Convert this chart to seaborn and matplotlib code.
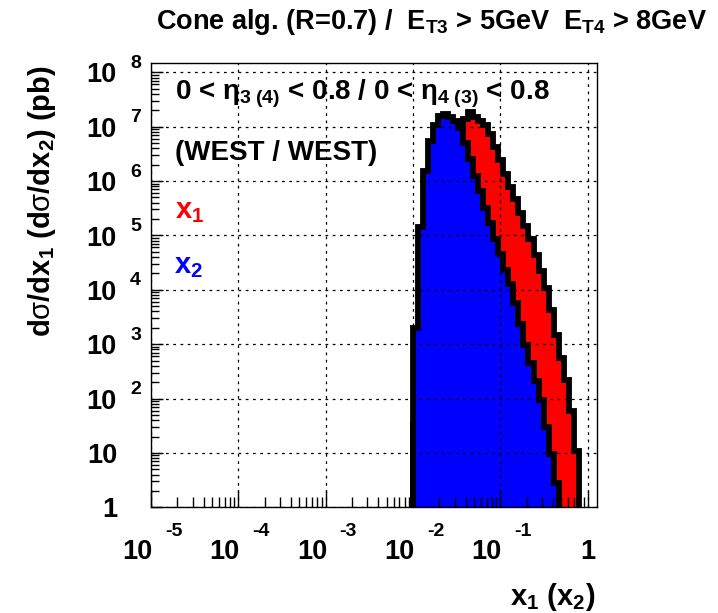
import numpy as np
import pandas as pd
import matplotlib
matplotlib.use("Agg")
import matplotlib.pyplot as plt
import matplotlib.transforms as mtrans
from matplotlib.collections import PolyCollection
from matplotlib.ticker import LogLocator, NullFormatter
import seaborn as sns

# log10(x) binning of the momentum-fraction histograms
log_x_start = -2.0
log_bin_width = 0.0575

# d(sigma)/dx in pb, one entry per bin
x1_xsec = [32, 1.0e3, 1.6e4, 1.0e5, 4.0e5, 1.26e6, 3.2e6, 5.6e6, 8.3e6,
           1.12e7, 1.38e7, 1.86e7, 1.5e7, 1.26e7, 1.05e7, 7.4e6, 4.2e6,
           2.4e6, 1.35e6, 7.8e5, 4.6e5, 2.6e5, 1.5e5, 8.5e4, 4.3e4, 2.2e4,
           1.1e4, 4.2e3, 1.45e3, 550, 215, 60, 11]
x2_xsec = [2.0e3, 1.4e5, 1.5e6, 5.5e6, 1.07e7, 1.55e7, 1.74e7, 1.48e7,
           1.26e7, 9.5e6, 5.0e6, 2.5e6, 1.26e6, 6.5e5, 3.2e5, 1.66e5, 8.5e4,
           4.5e4, 2.3e4, 1.26e4, 5.6e3, 2.3e3, 9.5e2, 4.5e2, 2.1e2, 95, 30,
           9.5, 2.8]

x_exponents = [-5, -4, -3, -2, -1, 0]
y_exponents = [0, 1, 2, 3, 4, 5, 6, 7, 8]

title_text = (r"Cone alg. (R=0.7) /  E$_{\mathbf{T3}}$ > 5GeV  "
              r"E$_{\mathbf{T4}}$ > 8GeV")
eta_text = (r"0 < η$_{\mathbf{3\ (4)}}$ < 0.8 / 0 < "
            r"η$_{\mathbf{4\ (3)}}$ < 0.8")
region_text = "(WEST / WEST)"
xlabel_text = r"x$_{\mathbf{1}}$ (x$_{\mathbf{2}}$)"
ylabel_text = (r"d$\mathrm{\sigma}$/dx$_{\mathbf{1}}$ "
               r"(d$\mathrm{\sigma}$/dx$_{\mathbf{2}}$) (pb)")

sns.set_theme(style="white")
plt.rcParams["font.family"] = ["Liberation Sans", "DejaVu Sans"]
plt.rcParams["text.color"] = "black"
plt.rcParams["mathtext.fontset"] = "custom"
plt.rcParams["mathtext.rm"] = "Liberation Sans"
plt.rcParams["mathtext.bf"] = "Liberation Sans:bold"
plt.rcParams["mathtext.it"] = "Liberation Sans:italic"

W, H = 718, 613
fig = plt.figure(figsize=(W / 100, H / 100), dpi=100)
fig.patch.set_facecolor("white")


def px(x, y):
    return x / W, 1 - y / H


left, right, top, bottom = 151, 597, 62.7, 507.3
ax = fig.add_axes([left / W, 1 - bottom / H, (right - left) / W, (bottom - top) / H])


def hist_frame(values):
    edges = log_x_start + log_bin_width * np.arange(len(values) + 1)
    centers = 10 ** (0.5 * (edges[:-1] + edges[1:]))
    return pd.DataFrame({"x": centers, "xsec": values}), edges.tolist()


for values, colour, z in [(x1_xsec, "#ff0000", 1), (x2_xsec, "#0000ff", 1.1)]:
    df, edges = hist_frame(values)
    before = set(ax.collections)
    sns.histplot(data=df, x="x", weights="xsec", bins=edges,
                 log_scale=(True, True), element="step", fill=True,
                 color=colour, facecolor=colour, edgecolor="black",
                 linewidth=4.2, alpha=1, joinstyle="miter", zorder=z, ax=ax)
    # the zero baseline of the filled step cannot be shown on a log axis:
    # drop it well below the visible range instead
    for coll in ax.collections:
        if coll in before or not isinstance(coll, PolyCollection):
            continue
        for path in coll.get_paths():
            verts = path.vertices
            verts[verts[:, 1] <= 0, 1] = 1e-3

ax.set_xlim(1e-5, 10 ** 0.107)
ax.set_ylim(1, 10 ** 8.176)
ax.set_xlabel("")
ax.set_ylabel("")
ax.set_axisbelow(False)
ax.grid(True, which="major", color="black", linestyle=(0, (2.2, 3.6)),
        linewidth=0.9, zorder=3)
ax.grid(False, which="minor")

ax.xaxis.set_major_locator(LogLocator(base=10, numticks=20))
ax.xaxis.set_minor_locator(LogLocator(base=10, subs=np.arange(2, 10), numticks=20))
ax.yaxis.set_major_locator(LogLocator(base=10, numticks=20))
ax.yaxis.set_minor_locator(LogLocator(base=10, subs=np.arange(2, 10), numticks=20))
for a in (ax.xaxis, ax.yaxis):
    a.set_major_formatter(NullFormatter())
    a.set_minor_formatter(NullFormatter())
ax.tick_params(axis="x", which="major", direction="in", length=12, width=1,
               color="black", bottom=True, top=False)
ax.tick_params(axis="x", which="minor", direction="in", length=7, width=1,
               color="black", bottom=True, top=False)
ax.tick_params(axis="y", which="major", direction="in", length=8.5, width=1,
               color="black", left=True, right=False)
ax.tick_params(axis="y", which="minor", direction="in", length=5.5, width=1,
               color="black", left=True, right=False)
for s in ax.spines.values():
    s.set_color("black")
    s.set_linewidth(1.0)

tick_font = dict(fontsize=19.5, fontweight="bold", color="black")
exp_font = dict(fontsize=14, fontweight="bold", color="black")

# x tick labels in ROOT style: "10" with a raised exponent
xt = ax.get_xaxis_transform()
for e in x_exponents:
    v = 10.0 ** e
    if e == 0:
        ax.text(v, 0, "1", transform=xt + mtrans.ScaledTranslation(0, -36.9 / 72, fig.dpi_scale_trans),
                ha="center", va="baseline", **tick_font)
        continue
    ax.text(v, 0, "10", transform=xt + mtrans.ScaledTranslation(1 / 72, -36.9 / 72, fig.dpi_scale_trans),
            ha="right", va="baseline", **tick_font)
    ax.text(v, 0, str(e), transform=xt + mtrans.ScaledTranslation(10 / 72, -20.7 / 72, fig.dpi_scale_trans),
            ha="left", va="baseline", **exp_font)

# y tick labels
yt = ax.get_yaxis_transform()
for e in y_exponents:
    v = 10.0 ** e
    if e in (0, 1):
        ax.text(0, v, "1" if e == 0 else "10",
                transform=yt + mtrans.ScaledTranslation(-24 / 72, -7.3 / 72, fig.dpi_scale_trans),
                ha="right", va="baseline", **tick_font)
        continue
    ax.text(0, v, "10", transform=yt + mtrans.ScaledTranslation(-24.5 / 72, -7.3 / 72, fig.dpi_scale_trans),
            ha="right", va="baseline", **tick_font)
    ax.text(0, v, str(e), transform=yt + mtrans.ScaledTranslation(-15 / 72, 3.2 / 72, fig.dpi_scale_trans),
            ha="left", va="baseline", **exp_font)

fig.text(*px(707, 29), title_text, ha="right", va="baseline", fontsize=19.5,
         fontweight="bold")
fig.text(*px(175, 99), eta_text, ha="left", va="baseline", fontsize=20, fontweight="bold")
fig.text(*px(175, 160), region_text, ha="left", va="baseline", fontsize=20, fontweight="bold")
fig.text(*px(175, 218), r"x$_{\mathbf{1}}$", ha="left", va="baseline", fontsize=21,
         fontweight="bold", color="#ff0000")
fig.text(*px(174, 273), r"x$_{\mathbf{2}}$", ha="left", va="baseline", fontsize=21,
         fontweight="bold", color="#0000ff")
fig.text(*px(595, 605), xlabel_text, ha="right", va="baseline", fontsize=21, fontweight="bold")
fig.text(*px(50, 65), ylabel_text, ha="right", va="baseline", rotation=90,
         rotation_mode="anchor", fontsize=21, fontweight="bold")

fig.savefig("out.png", dpi=100, facecolor="white")
